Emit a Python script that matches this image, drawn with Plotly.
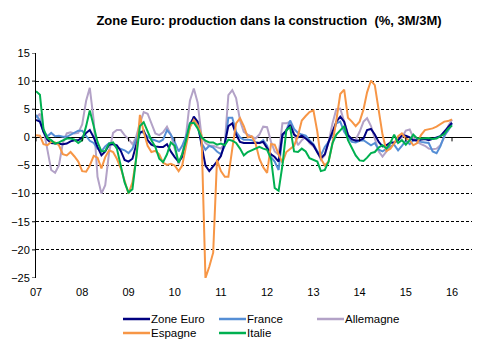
import pandas as pd
import plotly.graph_objects as go

# ---- data (monthly, Jan 2007 -> Jan 2016) ----
months = pd.date_range("2007-01-01", periods=109, freq="MS")

zone_euro = [3.1, 2.8, 1.0, -0.4, -1.0, -1.1, -1.2, -1.2, -1.1, -0.7,
             -0.5, -0.5, 0.0, 0.8, 1.3, 0.0, -1.7, -3.2, -2.5, -1.3,
             -1.2, -1.4, -2.4, -4.0, -4.3, -3.8, -1.5, 0.8, 1.2, -0.5,
             -1.3, -1.6, -1.7, -1.7, -1.2, -2.5, -3.5, -4.3, -3.5, -0.5,
             2.0, 3.7, 2.8, -1.4, -5.0, -6.0, -5.2, -4.3, -3.3, -1.0,
             2.0, 2.5, 0.5, -0.8, -1.0, -1.0, -0.9, -0.9, -1.0, -0.8,
             -2.0, -3.0, -3.5, -4.3, 0.5, 1.2, 2.2, 0.5, 0.0, 0.3,
             -0.2, -0.8, -1.4, -2.7, -3.7, -3.0, -0.8, 1.0, 2.8, 3.7,
             2.8, 0.4, -0.3, -0.6, -0.5, -0.2, 1.3, 1.5, 0.5, -0.8,
             -1.6, -1.4, -0.9, -0.9, -0.5, 0.4, 0.3, 0.0, -0.5, -0.5,
             -0.4, -0.3, -0.5, -0.3, 0.0, 0.2, 1.0, 1.8, 2.6]

france = [4.0, 3.0, 1.0, 0.2, 0.8, 0.2, 0.3, 0.1, 0.1, 0.5,
          0.8, 1.2, 1.2, 0.3, -0.6, -1.0, -2.0, -2.5, -1.6, -1.0,
          -1.2, -1.8, -2.0, -2.3, -2.8, -2.0, -0.5, 1.0, 0.8, 0.1,
          -0.3, -0.5, -0.8, -0.4, 1.3, 0.5, -0.8, -2.5, -1.5, 0.2,
          2.5, 3.4, 2.0, -1.0, -2.2, -1.5, -1.8, -2.5, -3.0, -1.5,
          3.5, 3.5, 1.0, 0.0, -0.4, -0.4, -0.5, -0.8, -1.0, -0.5,
          -1.5, -3.5, -4.3, -5.8, 0.2, 1.3, 3.0, 1.5, 0.8, 0.5,
          0.3, -0.5, -1.2, -2.5, -3.2, -1.7, -0.8, 0.5, 2.5, 2.8,
          1.0, 0.0, -0.8, -0.9, -0.6, -0.5, -1.0, -1.4, -1.0, -2.2,
          -2.5, -2.0, -1.6, -1.3, -2.3, -1.5, -0.6, -1.2, -0.5, -0.5,
          -0.8, -0.9, -1.0, -2.5, -2.8, -1.6, 0.3, 1.2, 2.4]

allemagne = [3.5, 4.2, 1.5, -2.0, -5.8, -6.3, -5.0, -1.0, 0.7, 0.9,
             0.7, 0.8, 2.3, 6.5, 8.8, 3.0, -7.0, -10.0, -8.5, -2.6,
             0.8, 1.3, 1.3, 0.4, -0.3, -1.2, 0.0, 2.5, 4.5, 4.2,
             2.5, 0.7, 0.4, 0.9, 1.9, 0.5, -2.0, -4.8, -3.0, 0.5,
             6.5, 8.7, 6.2, 0.2, -1.0, -1.5, -1.5, -1.8, -2.0, -1.0,
             7.5, 8.4, 7.0, 3.0, 1.0, 0.5, 0.2, -0.2, 0.5, 1.9,
             1.8, -0.8, -2.5, -3.1, 2.5, 2.5, 2.8, 0.5, -1.4, -0.5,
             0.1, -1.0, -1.6, -2.5, -4.0, -3.2, -0.8, 2.5, 5.0, 5.1,
             3.0, 0.6, -0.6, -0.4, 1.0, 2.8, 3.4, 2.0, -0.2, -2.5,
             -3.4, -2.5, -1.0, -1.0, -0.5, 0.0, 1.2, 1.4, 0.0, -0.8,
             -1.2, -1.5, -2.0, -2.1, -2.0, -1.4, 0.0, 2.0, 3.2]

espagne = [0.4, 0.3, -1.2, -1.4, -0.8, -0.9, -1.4, -3.0, -3.2, -2.6,
           -3.4, -4.3, -6.0, -6.1, -5.0, -3.3, -3.6, -5.5, -3.5, -2.3,
           -2.6, -3.8, -5.5, -7.8, -10.0, -8.0, -4.0, 4.0, 1.0, -1.5,
           -2.6, -2.4, -3.0, -4.5, -4.9, -4.7, -5.0, -6.0, -5.0, -1.5,
           1.8, 3.1, 2.2, 0.4, -25.0, -23.0, -20.5, -4.0, -6.0, -7.0,
           -7.0, -2.0, 2.5, 3.4, 2.0, 0.0, 0.2, -1.0, -3.8, -5.3,
           -6.3, -1.2, -1.3, -3.0, -4.5, -2.6, -2.0, -1.5, 0.3, 3.0,
           3.8, 4.5, 4.8, 1.0, -3.8, -5.0, -4.3, -1.0, 3.0, 7.7,
           8.5, 3.5, 2.8, 2.0, 2.8, 5.0, 8.0, 10.1, 9.3, 5.2,
           0.5, -2.4, -2.0, -1.1, 0.2, 0.7, -0.2, -0.5, -1.4, -1.0,
           0.4, 1.3, 1.4, 1.6, 1.9, 2.4, 2.8, 2.9, 3.2]

italie = [8.2, 7.6, 1.5, -0.1, -0.5, -1.1, -0.9, -0.5, -0.2, -0.2,
          -0.4, -1.0, -0.5, 2.0, 4.8, 2.0, -0.8, -2.5, -2.4, -1.1,
          -0.9, -2.0, -5.2, -8.0, -9.8, -9.2, -4.0, 2.0, 2.7, 1.0,
          -0.5, -1.7, -3.8, -4.4, -3.0, -0.9, -1.5, -4.5, -3.0, -0.5,
          2.5, 2.6, 1.6, 0.0, -0.6, -0.9, -0.9, -1.3, -1.1, -1.4,
          -0.4, -0.6, -1.0, -2.0, -3.2, -2.6, -2.3, -2.0, -1.7, -2.0,
          -2.2, -3.8, -9.0, -9.5, -5.0, 1.3, 1.8, -2.5, -2.6, -2.0,
          -2.5, -3.7, -4.0, -4.3, -6.0, -5.8, -4.3, -1.0, 0.5, 1.3,
          2.0, -0.5, -1.8, -3.2, -4.1, -4.2, -3.6, -2.8, -2.6, -1.8,
          -1.4, -2.0, -1.0, 0.5, -1.0, -0.5, -1.3, -0.5, 0.5, -0.2,
          -0.2, -0.2, -0.1, -0.3, -0.2, 0.2, 0.6, 1.5, 2.1]

year_ticks = pd.date_range("2007-01-01", periods=10, freq="YS")
year_labels = ["07", "08", "09", "10", "11", "12", "13", "14", "15", "16"]
y_ticks = [15, 10, 5, 0, -5, -10, -15, -20, -25]

series_names = ["Zone Euro", "France", "Allemagne", "Espagne", "Italie"]
series_values = [zone_euro, france, allemagne, espagne, italie]
series_colors = ["#000080", "#558ED5", "#B3A2C7", "#F79646", "#00B050"]
draw_order = ["Allemagne", "France", "Zone Euro", "Espagne", "Italie"]

FONT = "Liberation Sans, Arial, sans-serif"

# figure geometry (pixels)
W, H = 493, 341
ML, MR, MT, MB = 36, 21, 53, 63
PW, PH = W - ML - MR, H - MT - MB


def px_x(p):
    return (p - ML) / PW


def px_y(p):
    return (H - MB - p) / PH


fig = go.Figure()
for name in draw_order:
    i = series_names.index(name)
    fig.add_trace(go.Scatter(
        x=months, y=series_values[i], mode="lines", name=name,
        line=dict(color=series_colors[i], width=2),
        showlegend=False,
    ))

# small tick marks on the zero line (x axis crosses at 0)
for t in year_ticks:
    fig.add_shape(type="line", xref="x", yref="y", x0=t, x1=t,
                  ysizemode="pixel", yanchor=0, y0=0, y1=-4,
                  line=dict(color="black", width=1))

# short visible y ticks
for v in y_ticks:
    fig.add_shape(type="line", xref="paper", yref="y", y0=v, y1=v,
                  xsizemode="pixel", xanchor=0, x0=-4, x1=0,
                  line=dict(color="black", width=1))

# legend, laid out like the original (two rows)
legend_slots = {  # name: (line start px, row centre px)
    "Zone Euro": (123, 319), "France": (219, 319), "Allemagne": (317, 319),
    "Espagne": (123, 333), "Italie": (219, 333),
}
for name, color in zip(series_names, series_colors):
    lx, ly = legend_slots[name]
    fig.add_shape(type="line", xref="paper", yref="paper",
                  x0=px_x(lx), x1=px_x(lx + 27), y0=px_y(ly), y1=px_y(ly),
                  line=dict(color=color, width=2.5))
    fig.add_annotation(text=name, xref="paper", yref="paper",
                       x=px_x(lx + 26), y=px_y(ly), xanchor="left", yanchor="middle",
                       showarrow=False, font=dict(family=FONT, size=11.5, color="black"))

fig.update_layout(
    width=W, height=H,
    margin=dict(l=ML, r=MR, t=MT, b=MB),
    paper_bgcolor="white", plot_bgcolor="white",
    font=dict(family=FONT, size=11, color="black"),
    showlegend=False,
    title=dict(text="<b>Zone Euro: production dans la construction\u00a0 (%, 3M/3M)</b>",
               x=269 / W, xanchor="center", xref="container",
               y=1 - 20 / H, yanchor="middle", yref="container",
               font=dict(family=FONT, size=13, color="black")),
    xaxis=dict(type="date", range=["2007-01-01", "2016-06-07"],
               tickvals=list(year_ticks), ticktext=year_labels,
               showgrid=False, showline=False, zeroline=False,
               ticks="outside", ticklen=4, tickcolor="rgba(0,0,0,0)",
               tickfont=dict(family=FONT, size=11, color="black")),
    yaxis=dict(range=[-25, 15], tickvals=y_ticks,
               showgrid=True, gridcolor="black", gridwidth=1, griddash="3px,2px",
               zeroline=True, zerolinecolor="black", zerolinewidth=1,
               showline=True, linecolor="black", linewidth=1,
               ticks="outside", ticklen=3, tickcolor="rgba(0,0,0,0)",
               tickfont=dict(family=FONT, size=11, color="black")),
)

fig.write_html("out.html")
